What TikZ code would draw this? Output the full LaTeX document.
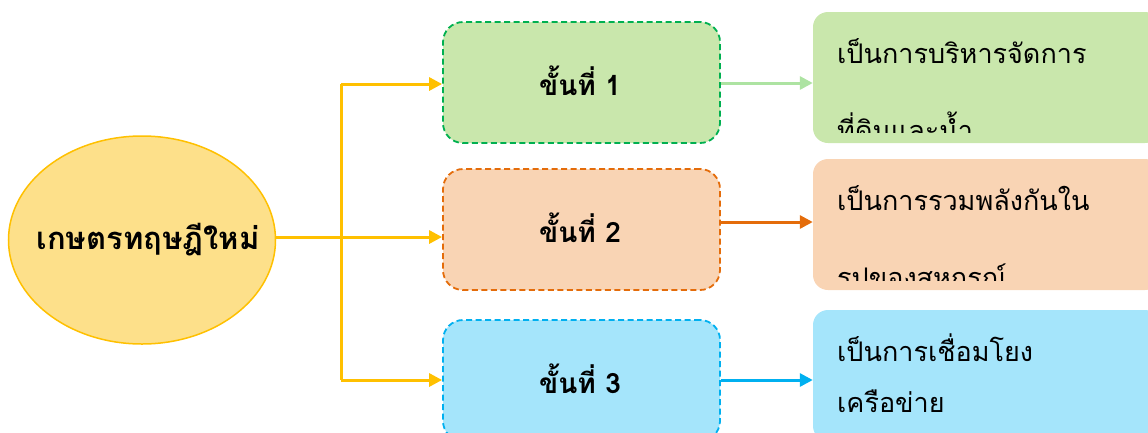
\documentclass[tikz,border=0pt]{standalone}
\usepackage{fontspec}
\usetikzlibrary{shapes.geometric,arrows.meta}
\newfontfamily\thai[Script=Thai]{Loma}
\definecolor{gold}{HTML}{FFC000}
\definecolor{ellfill}{HTML}{FDE08A}
\definecolor{gfill}{HTML}{C9E7AC}
\definecolor{gline}{HTML}{00B050}
\definecolor{garrow}{HTML}{ADE3A2}
\definecolor{ofill}{HTML}{F9D4B4}
\definecolor{oline}{HTML}{E46C0A}
\definecolor{bfill}{HTML}{A5E5FB}
\definecolor{bline}{HTML}{00B0F0}
\tikzset{
  tip/.style={-{Triangle[length=13pt,width=13pt]}},
  stepbox/.style={rectangle,rounded corners=20pt,minimum width=277pt,minimum height=121pt,line width=1.8pt,dash pattern=on 6pt off 3.5pt,inner sep=0pt},
  steptext/.style={anchor=base,inner sep=0pt,font=\thai\bfseries\fontsize{28}{32}\selectfont},
  rbox/.style={rectangle,rounded corners=15pt,minimum width=347pt,minimum height=131pt,inner sep=0pt},
  rtext/.style={anchor=base west,inner sep=0pt,font=\thai\fontsize{27}{30}\selectfont},
}
\begin{document}
\begin{tikzpicture}[x=1pt,y=-1pt]
\useasboundingbox (0,0) rectangle (1148,432);
\clip (0,0) rectangle (1148,432);
% central ellipse
\node[ellipse,draw=gold,line width=1.5pt,fill=ellfill,minimum width=267pt,minimum height=208pt,inner sep=0pt] (e) at (142,240) {};
\node[anchor=base,inner sep=0pt,font=\thai\bfseries\fontsize{31}{34}\selectfont] (et) at (148,249) {เกษตรทฤษฎีใหม่};
% step boxes
\node[stepbox,draw=gline,fill=gfill] (b1) at (581.5,82.5) {};
\node[stepbox,draw=oline,fill=ofill] (b2) at (581.5,229.5) {};
\node[stepbox,draw=bline,fill=bfill] (b3) at (581.5,380.5) {};
\node[steptext] (t1) at (580,95) {ขั้นที่ 1};
\node[steptext] (t2) at (580,242) {ขั้นที่ 2};
\node[steptext] (t3) at (580,393) {ขั้นที่ 3};
% right boxes
\node[rbox,fill=gfill] (r1) at (986.5,77.5) {};
\node[rbox,fill=ofill] (r2) at (986.5,224.5) {};
\node[rbox,fill=bfill] (r3) at (986.5,375.5) {};
\begin{scope}
\clip (813,12) rectangle (1148,132);
\node[rtext] (r1a) at (837,63) {เป็นการบริหารจัดการ};
\node[rtext] (r1b) at (837,140) {ที่ดินและน้ำ};
\end{scope}
\begin{scope}
\clip (813,159) rectangle (1148,280);
\node[rtext] (r2a) at (837,210) {เป็นการรวมพลังกันใน};
\node[rtext] (r2b) at (837,287) {รูปของสหกรณ์};
\end{scope}
\node[rtext] (r3a) at (837,361) {เป็นการเชื่อมโยง};
\node[rtext] (r3b) at (837,412) {เครือข่าย};
% yellow connectors
\coordinate (jt) at (341,84);
\coordinate (jb) at (341,380);
\draw[gold,line width=3pt] (jt) -- (jb);
\draw[gold,line width=3pt,tip] (jt) -- (jt -| b1.west);
\draw[gold,line width=3pt,tip] (e.east |- 0,237) -- (b2.west |- 0,237);
\draw[gold,line width=3pt,tip] (jb) -- (jb -| b3.west);
% step arrows
\draw[garrow,line width=3pt,tip] (b1.east |- 0,83) -- (r1.west |- 0,83);
\draw[oline,line width=3pt,tip] (b2.east |- 0,222) -- (r2.west |- 0,222);
\draw[bline,line width=3pt,tip] (b3.east |- 0,380) -- (r3.west |- 0,380);
\end{tikzpicture}
\end{document}
